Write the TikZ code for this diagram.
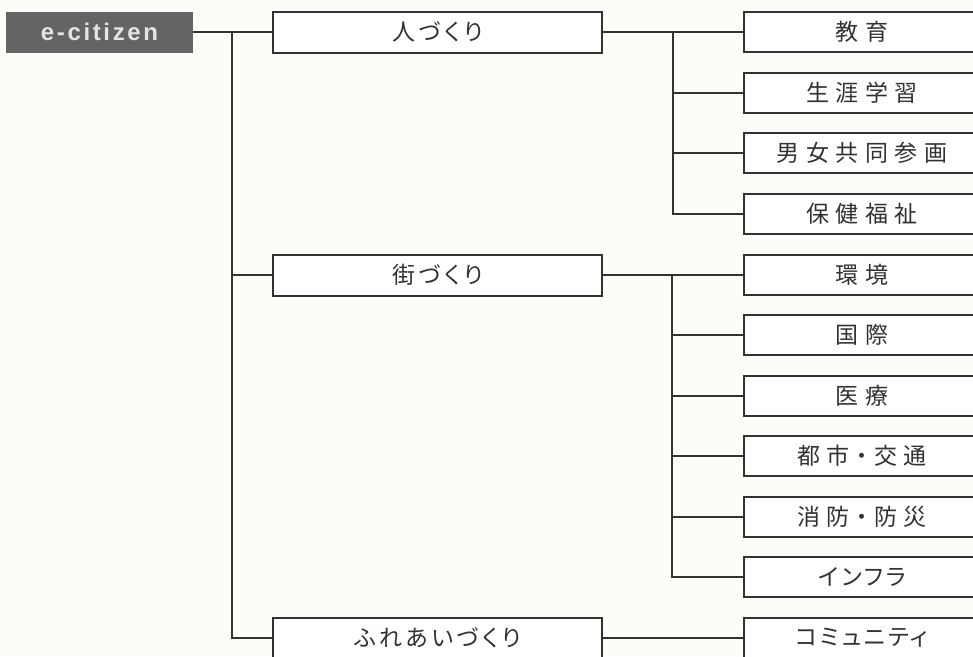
\documentclass[tikz,border=0pt]{standalone}
\usepackage{fontspec}
\newfontfamily\jpk[RawFeature=+palt,LetterSpace=15]{Noto Sans CJK JP}
\newfontfamily\jpkk[RawFeature=+palt,LetterSpace=12]{Noto Sans CJK JP}
\newfontfamily\jpw[RawFeature=+palt,LetterSpace=28]{Noto Sans CJK JP}
\newfontfamily\ecfont[LetterSpace=11]{Liberation Sans}
\definecolor{ink}{RGB}{50,50,50}
\definecolor{paper}{RGB}{252,252,248}
\definecolor{ecgray}{RGB}{100,100,100}
\definecolor{ectext}{RGB}{228,228,228}
\begin{document}
\begin{tikzpicture}[x=1pt,y=-1pt,
  conn/.style={draw=ink,line width=2pt},
  parentbox/.style={draw=ink,line width=2pt,fill=white,minimum width=329pt,minimum height=41pt,inner sep=0pt,text=ink,font=\jpk\fontsize{23}{23}\selectfont},
  kidbox/.style={draw=ink,line width=2pt,fill=white,minimum width=236pt,minimum height=40pt,inner sep=0pt,text=ink,font=\jpw\fontsize{23}{23}\selectfont},
  kidkana/.style={kidbox,font=\jpkk\fontsize{23}{23}\selectfont},
  rootbox/.style={fill=ecgray,minimum width=187pt,minimum height=41pt,inner sep=0pt,text=ectext,font=\ecfont\bfseries\fontsize{24}{24}\selectfont}
]
\useasboundingbox (0,0) rectangle (973,656);
\fill[paper] (0,0) rectangle (973,656);
\begin{scope}
\clip (0,0) rectangle (973,656);
% root
\node[rootbox] (ec) at (99.5,32) {e-citizen};
% parents
\node[parentbox] (jin) at (437.5,32) {人づくり};
\node[parentbox] (machi) at (437.5,275) {街づくり};
\node[parentbox] (fure) at (437.5,638) {ふれあいづくり};
% children
\node[kidbox] (c1) at (862,32) {教育};
\node[kidbox] (c2) at (862,92.5) {生涯学習};
\node[kidbox] (c3) at (862,153) {男女共同参画};
\node[kidbox] (c4) at (862,213.5) {保健福祉};
\node[kidbox] (c5) at (862,275) {環境};
\node[kidbox] (c6) at (862,335) {国際};
\node[kidbox] (c7) at (862,395.5) {医療};
\node[kidbox] (c8) at (862,456) {都市・交通};
\node[kidbox] (c9) at (862,516.5) {消防・防災};
\node[kidkana] (c10) at (862,577) {インフラ};
\node[kidkana] (c11) at (862,638) {コミュニティ};
% trunks
\coordinate (t0) at (232,32);
\coordinate (s1) at (673,32);
\coordinate (s2) at (672,275);
\draw[conn] (ec.east) -- (jin.west);
\draw[conn] (t0) |- (fure.west);
\draw[conn] (t0 |- machi.west) -- (machi.west);
\draw[conn] (jin.east) -- (c1.west);
\draw[conn] (s1) |- (c4.west);
\draw[conn] (s1 |- c2.west) -- (c2.west);
\draw[conn] (s1 |- c3.west) -- (c3.west);
\draw[conn] (machi.east) -- (c5.west);
\draw[conn] (s2) |- (c10.west);
\draw[conn] (s2 |- c6.west) -- (c6.west);
\draw[conn] (s2 |- c7.west) -- (c7.west);
\draw[conn] (s2 |- c8.west) -- (c8.west);
\draw[conn] (s2 |- c9.west) -- (c9.west);
\draw[conn] (fure.east) -- (c11.west);
\end{scope}
\end{tikzpicture}
\end{document}
